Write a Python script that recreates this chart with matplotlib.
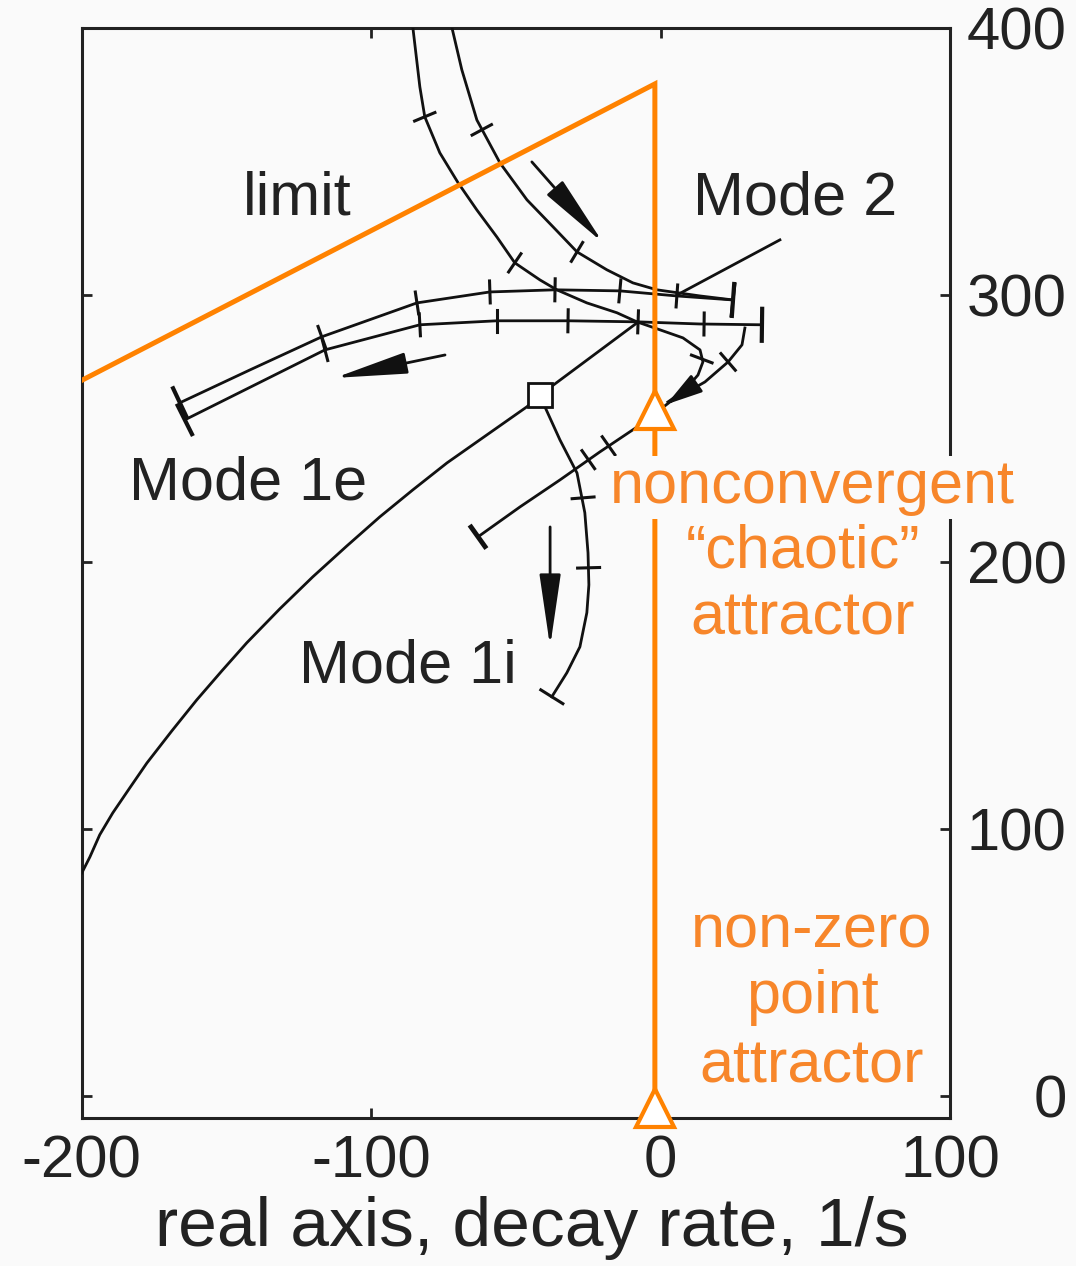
import numpy as np
import matplotlib
matplotlib.use('Agg')
import matplotlib.pyplot as plt

plt.rcParams['font.family'] = ['Liberation Sans', 'DejaVu Sans']
plt.rcParams['axes.unicode_minus'] = False

# root locus branches (real part, imaginary part)
t1_x = [-85.6, -83.2, -81.5, -76.3, -70.0, -63.5, -56.6, -50.4, -41.7, -35.9, -25.5, -15.1, -8.2,
        -0.2, 7.7, 13.6, 14.6, 12.9, 8.4, 2.5]
t1_y = [400.0, 377.9, 366.7, 353.2, 342.0, 331.8, 321.7, 312.0, 305.6, 301.9, 297.0, 293.3, 289.9,
        286.9, 283.9, 279.4, 274.9, 270.0, 264.4, 259.9]
t1_ticks = [(-81.5, 366.7), (-50.4, 312.0), (14.2, 276.0)]

t2_x = [-72.1, -68.7, -63.5, -55.5, -46.2, -37.2, -28.9, -18.6, -9.6, -1.3, 13.6, 25.0]
t2_y = [400.0, 384.3, 365.5, 349.4, 335.6, 325.5, 316.1, 309.4, 304.5, 301.9, 299.6, 298.1]
t2_ticks = [(-61.8, 361.8), (-28.9, 316.1)]

h1_x = [-166.1, -141.9, -117.1, -84.2, -59.0, -36.5, -14.1, 5.6, 25.0]
h1_y = [259.6, 271.9, 284.3, 297.0, 301.1, 301.9, 301.5, 299.6, 298.1]
h1_ticks = [(-117.1, 284.3), (-84.2, 297.0), (-59.0, 301.1), (-36.5, 301.9), (-14.1, 301.5), (5.6, 299.6)]

h2_x = [-164.4, -140.2, -116.0, -83.2, -56.6, -32.0, -7.8, 13.6, 35.0]
h2_y = [253.2, 266.3, 279.4, 288.8, 290.3, 290.3, 289.9, 289.1, 288.8]
h2_ticks = [(-116.0, 279.4), (-83.2, 288.8), (-56.6, 290.3), (-32.0, 290.3), (-7.8, 289.9), (15.0, 289.1)]

loop_x = [29.1, 28.1, 23.3, 15.3, 3.2, -7.1, -21.0, -34.8, -48.6, -63.1]
loop_y = [287.6, 281.3, 274.9, 267.4, 259.9, 251.3, 241.2, 230.7, 220.6, 209.4]
loop_ticks = [(23.3, 274.9), (-18.0, 243.5), (-25.0, 238.3)]

sq_x, sq_y = -41.7, 262.5
link_x = [-41.7, -8.2]
link_y = [262.5, 289.5]

e_x = [-41.7, -46.2, -60.0, -73.8, -85.6, -97.0, -108.4, -120.2, -131.6, -143.0, -151.6,
       -160.3, -168.9, -177.5, -183.4, -189.3, -193.8, -197.2, -200.0]
e_y = [262.5, 258.1, 247.6, 237.1, 227.0, 216.9, 206.0, 194.4, 182.4, 169.7, 159.2,
       148.3, 136.7, 124.7, 115.4, 106.0, 97.8, 89.5, 83.5]

i_x = [-41.7, -40.0, -34.8, -28.9, -26.2, -25.1, -24.8, -25.5, -27.9, -32.4, -37.6]
i_y = [262.5, 258.1, 245.7, 233.3, 218.4, 203.4, 191.4, 181.0, 168.2, 158.5, 149.5]
i_ticks = [(-24.9, 197.8), (-26.8, 224.0)]

# arrows: (tail, head)
arrows = [((-44.5, 349.8), (-19.9, 319.5)),
          ((-74.5, 277.5), (-112.6, 268.9)),
          ((-38.2, 213.1), (-38.2, 168.2))]
loop_arrow = ((10.0, 265.0), (2.0, 259.0))

mode2_ptr = ((41.2, 320.6), (5.7, 300.0))

# orange stability limit
limit_x = [-200, -2, -2]
limit_y = [268, 379, -4.5]
attr_x = [-2, -2]
attr_y = [257, -4.5]

bg = '#fafafa'
ink = '#111111'
orange = '#ff8200'
orange_txt = '#f7862a'

fig = plt.figure(figsize=(10.76, 12.66), dpi=100, facecolor=bg)
ax = fig.add_axes([0.076, 0.117, 0.807, 0.861], facecolor=bg)
ax.set_xlim(-200, 100)
ax.set_ylim(-8.2, 400)


def perp_ticks(xs, ys, pts, half=11, lw=2.2):
    """Short marks across a branch at the given points."""
    line = ax.transData.transform(np.column_stack([xs, ys]))
    inv = ax.transData.inverted()
    for x, y in pts:
        p = ax.transData.transform((x, y))
        i = min(int(np.argmin(np.hypot(*(line - p).T))), len(line) - 2)
        t = line[i + 1] - line[i]
        t = t / np.hypot(*t)
        n = np.array([-t[1], t[0]])
        a, b = inv.transform([p - n * half, p + n * half])
        ax.plot([a[0], b[0]], [a[1], b[1]], color=ink, lw=lw, zorder=4)


lw = 2.0
for xs, ys in [(t1_x, t1_y), (t2_x, t2_y), (h1_x, h1_y), (h2_x, h2_y),
               (loop_x, loop_y), (link_x, link_y), (e_x, e_y), (i_x, i_y)]:
    ax.plot(xs, ys, color=ink, lw=lw, zorder=4, solid_joinstyle='round')

perp_ticks(t1_x, t1_y, t1_ticks)
perp_ticks(t2_x, t2_y, t2_ticks)
perp_ticks(h1_x, h1_y, h1_ticks)
perp_ticks(h2_x, h2_y, h2_ticks)
perp_ticks(loop_x, loop_y, loop_ticks)
perp_ticks(i_x, i_y, i_ticks)
# end caps
perp_ticks(t2_x, t2_y, [(t2_x[-1], t2_y[-1])], half=16)
perp_ticks(h1_x, h1_y, [(h1_x[-1], h1_y[-1]), (h1_x[0], h1_y[0])], half=16, lw=3)
perp_ticks(h2_x, h2_y, [(h2_x[-1], h2_y[-1]), (h2_x[0], h2_y[0])], half=16, lw=3)
perp_ticks(loop_x, loop_y, [(loop_x[-1], loop_y[-1])], half=12, lw=3.5)
perp_ticks(i_x, i_y, [(i_x[-1], i_y[-1])], half=13)

ax.plot(sq_x, sq_y, marker='s', ms=17, mfc='white', mec=ink, mew=2, zorder=5)

for tail, head in arrows:
    ax.annotate('', xy=head, xytext=tail,
                arrowprops=dict(arrowstyle='-|>,head_length=1.5,head_width=0.22',
                                color=ink, lw=2, mutation_scale=30,
                                shrinkA=0, shrinkB=0), zorder=5)
ax.annotate('', xy=loop_arrow[1], xytext=loop_arrow[0],
            arrowprops=dict(arrowstyle='-|>,head_length=1.4,head_width=0.4',
                            color=ink, lw=2, mutation_scale=16,
                            shrinkA=0, shrinkB=0), zorder=5)
ax.plot([mode2_ptr[0][0], mode2_ptr[1][0]], [mode2_ptr[0][1], mode2_ptr[1][1]],
        color=ink, lw=lw, zorder=4)

ax.plot(limit_x, limit_y, color=orange, lw=3.6, zorder=6, solid_joinstyle='miter')
ax.plot(attr_x, attr_y, ls='none', marker='^', ms=27, mfc='white', mec=orange,
        mew=3, zorder=7, clip_on=False)

fs = 44
txt = '#222222'
ax.text(-125.7, 330.0, 'limit', fontsize=fs, ha='center', va='baseline', color=txt)
ax.text(46.4, 330.0, 'Mode 2', fontsize=fs, ha='center', va='baseline', color=txt)
ax.text(-142.6, 223.2, 'Mode 1e', fontsize=fs, ha='center', va='baseline', color=txt)
ax.text(-87.3, 154.7, 'Mode 1i', fontsize=fs, ha='center', va='baseline', color=txt)

ax.text(52.3, 222.1, 'nonconvergent', fontsize=fs, ha='center', va='baseline',
        color=orange_txt, zorder=8,
        bbox=dict(facecolor=bg, edgecolor='none', pad=2))
ax.text(49.2, 197.8, '\u201cchaotic\u201d', fontsize=fs, ha='center', va='baseline', color=orange_txt)
ax.text(49.2, 172.7, 'attractor', fontsize=fs, ha='center', va='baseline', color=orange_txt)
ax.text(52.3, 55.5, 'non-zero', fontsize=fs, ha='center', va='baseline', color=orange_txt)
ax.text(52.3, 31.1, 'point', fontsize=fs, ha='center', va='baseline', color=orange_txt)
ax.text(52.3, 4.9, 'attractor', fontsize=fs, ha='center', va='baseline', color=orange_txt)

ax.set_xticks([-200, -100, 0, 100])
ax.set_yticks([0, 100, 200, 300, 400])
ax.yaxis.tick_right()
ax.tick_params(axis='both', direction='in', length=7, width=2, labelsize=43,
               colors=txt, top=True, left=True, right=True)
ax.tick_params(axis='x', pad=12)
ax.tick_params(axis='y', pad=84)
for lab in ax.get_yticklabels():
    lab.set_horizontalalignment('right')
for s in ax.spines.values():
    s.set_linewidth(2.2)
    s.set_color(txt)
ax.set_xlabel('real axis, decay rate, 1/s', fontsize=50, color=txt)
ax.xaxis.set_label_coords(0.518, -0.072)

fig.savefig('out.png', dpi=100, facecolor=bg)
